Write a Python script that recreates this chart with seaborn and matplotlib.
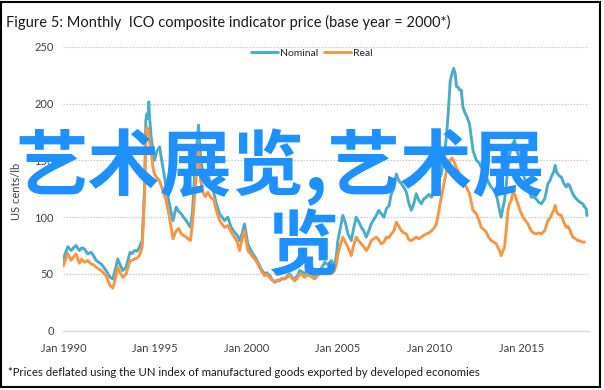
import matplotlib
matplotlib.use("Agg")
import matplotlib.pyplot as plt
from matplotlib.patches import Rectangle
import seaborn as sns
import numpy as np
import pandas as pd

# ---------------------------------------------------------------------------
# Data (decimal years; US cents/lb)
# ---------------------------------------------------------------------------
years = [
    1990.0, 1990.1, 1990.24, 1990.42, 1990.55, 1990.69, 1990.87, 1991.0,
    1991.15, 1991.33, 1991.51, 1991.65, 1991.79, 1992.06, 1992.33, 1992.55,
    1992.7, 1992.85, 1992.97, 1993.1, 1993.24, 1993.42, 1993.64, 1993.76,
    1993.88, 1994.02, 1994.15, 1994.3, 1994.43, 1994.5, 1994.56, 1994.62,
    1994.66, 1994.72, 1994.79, 1994.88, 1994.97, 1995.1, 1995.25, 1995.43,
    1995.61, 1995.79, 1995.98, 1996.16, 1996.3, 1996.43, 1996.7, 1996.94,
    1997.05, 1997.16, 1997.27, 1997.38, 1997.5, 1997.62, 1997.75, 1997.9,
    1998.05, 1998.2, 1998.35, 1998.53, 1998.8, 1998.98, 1999.16, 1999.34,
    1999.5, 1999.62, 1999.75, 1999.89, 2000.07, 2000.2, 2000.35, 2000.5,
    2000.62, 2000.8, 2000.98, 2001.1, 2001.26, 2001.4, 2001.53, 2001.67,
    2001.8, 2001.94, 2002.08, 2002.22, 2002.35, 2002.5, 2002.63, 2002.77,
    2002.9, 2003.03, 2003.17, 2003.3, 2003.44, 2003.58, 2003.72, 2003.85,
    2003.99, 2004.13, 2004.27, 2004.45, 2004.63, 2004.81, 2004.9, 2004.99,
    2005.12, 2005.26, 2005.4, 2005.54, 2005.72, 2005.85, 2005.99, 2006.13,
    2006.27, 2006.4, 2006.54, 2006.68, 2006.81, 2006.95, 2007.09, 2007.22,
    2007.36, 2007.5, 2007.64, 2007.78, 2007.91, 2008.05, 2008.18, 2008.32,
    2008.46, 2008.6, 2008.73, 2008.87, 2009.0, 2009.14, 2009.27, 2009.41,
    2009.55, 2009.68, 2009.82, 2009.96, 2010.1, 2010.23, 2010.37, 2010.5,
    2010.64, 2010.73, 2010.82, 2010.91, 2011.0, 2011.07, 2011.13, 2011.22,
    2011.31, 2011.4, 2011.47, 2011.55, 2011.64, 2011.73, 2011.82, 2011.91,
    2012.05, 2012.18, 2012.37, 2012.55, 2012.7, 2012.82, 2012.96, 2013.1,
    2013.23, 2013.37, 2013.5, 2013.64, 2013.82, 2013.91, 2014.0, 2014.09,
    2014.18, 2014.28, 2014.37, 2014.46, 2014.55, 2014.64, 2014.73, 2014.82,
    2014.96, 2015.1, 2015.23, 2015.37, 2015.55, 2015.68, 2015.82, 2015.96,
    2016.1, 2016.28, 2016.37, 2016.46, 2016.57, 2016.68, 2016.78, 2016.86,
    2016.93, 2017.0, 2017.1, 2017.19, 2017.32, 2017.46, 2017.55, 2017.64,
    2017.73, 2017.82, 2017.96, 2018.1, 2018.23, 2018.37, 2018.46, 2018.55,
    2018.6,
]
nominal = [
    62, 68, 74, 70.6, 73, 75, 70.6, 73,
    72, 67.6, 69, 66, 61.8, 58.8, 53, 47,
    45.6, 55, 63.2, 58, 53, 55.9, 69, 68,
    70.6, 70, 73.5, 79.4, 125, 185, 191, 187,
    201.5, 185, 170.6, 160, 150, 158, 161.8, 144,
    126.5, 111.8, 97, 108.8, 105, 103, 97, 91,
    105, 135, 160, 181, 150, 140, 132, 138,
    128, 122, 112, 103, 97, 100, 91, 86.8,
    84, 79.4, 85, 94, 76.5, 72, 67.6, 64,
    60.3, 54.4, 50, 51, 48.5, 45, 42.6, 44,
    44, 46, 45.6, 48, 50, 47, 45.6, 48,
    53, 52, 50, 53, 51.5, 50, 48.5, 51,
    53, 56, 60.3, 58, 61.8, 57.4, 65, 79.4,
    90, 101.5, 95, 85.3, 79.4, 90, 100, 96,
    91, 88, 82.4, 88, 94, 98, 101.5, 106,
    103, 100, 107.4, 110, 120.6, 125, 138, 132,
    129.4, 126, 122, 112, 106, 112, 120.6, 115,
    111.8, 116, 117.6, 120, 117.6, 122, 126.5, 133,
    138, 147, 155.9, 170, 188, 205, 220.6, 226,
    231, 226, 215, 214.7, 212, 211.8, 197, 192.6,
    188, 182, 158.8, 150, 148, 144, 140, 135.3,
    130, 126.5, 124, 120.6, 106, 100, 108, 114.7,
    128, 144, 155, 161.8, 165, 167.6, 160, 156,
    148, 138, 132, 126.5, 117.6, 118, 116, 113,
    111.8, 116, 122, 129.4, 132, 136.8, 140, 145.6,
    140, 138, 136, 135.3, 130, 126.5, 129, 128,
    124, 120.6, 117, 114.7, 113, 111.8, 109, 107.4,
    101.5,
]
real = [
    57, 62, 68, 62, 65, 67.6, 59.4, 63,
    60.3, 61.8, 58.8, 58, 55.9, 53, 48.5, 39.7,
    37.6, 47, 55.9, 51, 47, 50, 61.8, 62,
    63.2, 64, 66.2, 73.5, 118, 170, 179, 175,
    176.5, 165, 158.8, 145, 138, 135, 132, 123.5,
    114.7, 100, 81, 88, 90, 85.3, 82.4, 79.4,
    95, 118, 140, 158, 132, 122, 118, 122,
    117, 116, 106, 97, 91, 92.6, 86.8, 82.4,
    78, 70.6, 80, 88, 70.6, 68, 64.7, 62,
    58.8, 53, 48.5, 49.5, 47, 44.5, 43.5, 44.5,
    44.7, 46, 45.6, 47, 48.5, 46, 44, 46,
    50, 49, 47, 49, 48.5, 47, 45.6, 48,
    50, 51, 53, 51, 50, 53, 58, 67.6,
    75, 82.4, 78, 73.5, 66.2, 75, 82.4, 79,
    76.5, 74, 70.6, 74, 79.4, 81, 82.4, 80,
    76.5, 78, 82.4, 82, 85.3, 88, 95.6, 92,
    88, 86, 85.3, 80, 79.4, 81, 82.4, 81,
    82.4, 84, 85.3, 86, 88, 90, 94, 105,
    117.6, 125, 132, 140, 150, 146, 150, 152,
    150, 146, 143, 141, 137, 132, 130, 129.4,
    125, 120.6, 106, 103, 97, 91, 89, 86.8,
    82, 79.4, 78, 76.5, 70.6, 66.2, 70, 73.5,
    88, 106, 112, 114.7, 122, 120.6, 116, 111.8,
    105, 100, 97, 94, 88, 86, 85.3, 86,
    85.3, 88, 92, 97, 99, 103, 106, 110.3,
    105, 103, 102, 101.5, 96, 91, 92, 89.7,
    86, 82.4, 81, 79.4, 79, 78, 78, np.nan,
    np.nan,
]

year_ticks = [1990, 1995, 2000, 2005, 2010, 2015]
year_labels = ["Jan 1990", "Jan 1995", "Jan 2000", "Jan 2005", "Jan 2010", "Jan 2015"]
y_ticks = [0, 50, 100, 150, 200, 250]

NOMINAL_COLOR = "#4BACC6"
REAL_COLOR = "#F79646"
GRID_COLOR = "#C8C8C8"
TEXT_COLOR = "#404040"

sns.set_style("white")
plt.rcParams["font.family"] = ["Lato", "DejaVu Sans"]

df = pd.DataFrame({"year": years, "Nominal": nominal, "Real": real})

fig = plt.figure(figsize=(6.04, 3.9), dpi=100)
ax = fig.add_axes([0.105, 0.152, 0.870, 0.728])

sns.lineplot(data=df, x="year", y="Nominal", ax=ax, color=NOMINAL_COLOR,
             linewidth=2.1, label="Nominal")
sns.lineplot(data=df, x="year", y="Real", ax=ax, color=REAL_COLOR,
             linewidth=2.1, label="Real")

ax.set_xlim(1990, 2018.7)
ax.set_ylim(0, 250)
ax.set_xticks(year_ticks)
ax.set_xticklabels(year_labels)
ax.set_yticks(y_ticks)
ax.set_xlabel("")
ax.set_ylabel("")

ax.yaxis.grid(True, linestyle=(0, (1.2, 1.2)), color=GRID_COLOR, linewidth=0.9)
ax.xaxis.grid(False)
for side in ["top", "right", "left"]:
    ax.spines[side].set_visible(False)
ax.spines["bottom"].set_color("#D9D9D9")
ax.spines["bottom"].set_linewidth(1.0)

ax.tick_params(axis="x", length=2.5, width=0.8, color="#D9D9D9", pad=6,
               labelsize=8, labelcolor=TEXT_COLOR)
ax.tick_params(axis="y", length=0, pad=7, labelsize=8, labelcolor=TEXT_COLOR)
ax.set_axisbelow(True)

ax.legend(loc="center", bbox_to_anchor=(0.516, 0.863), bbox_transform=fig.transFigure,
          ncol=2, frameon=False, fontsize=7.5, handlelength=2.6,
          handletextpad=0.15, columnspacing=0.6, borderpad=0.2)

fig.text(0.0276, 0.51, "US cents/lb", rotation=90, ha="center", va="center",
         fontsize=8, color=TEXT_COLOR)
fig.text(0.01, 0.942, "Figure 5: Monthly  ICO composite indicator price (base year = 2000*)",
         ha="left", va="center", fontsize=10.5, color="#1A1A1A")
fig.text(0.0132, 0.0444,
         "*Prices deflated using the UN index of manufactured goods exported by developed economies",
         ha="left", va="center", fontsize=8.2, color="#1A1A1A")

# overlay text
cjk = ["Noto Sans CJK SC", "DejaVu Sans"]
fig.text(0.026, 0.572, "艺术展览,艺术展", ha="left", va="center", fontsize=52,
         color="#1E90FF", family=cjk, fontweight="bold")
fig.text(0.5, 0.363, "览", ha="center", va="center", fontsize=52,
         color="#1E90FF", family=cjk, fontweight="bold")

fig.patches.append(Rectangle((0.002, 0.008), 0.992, 0.988, transform=fig.transFigure,
                             fill=False, edgecolor="black", linewidth=1.5))

fig.savefig("out.png", dpi=100)
